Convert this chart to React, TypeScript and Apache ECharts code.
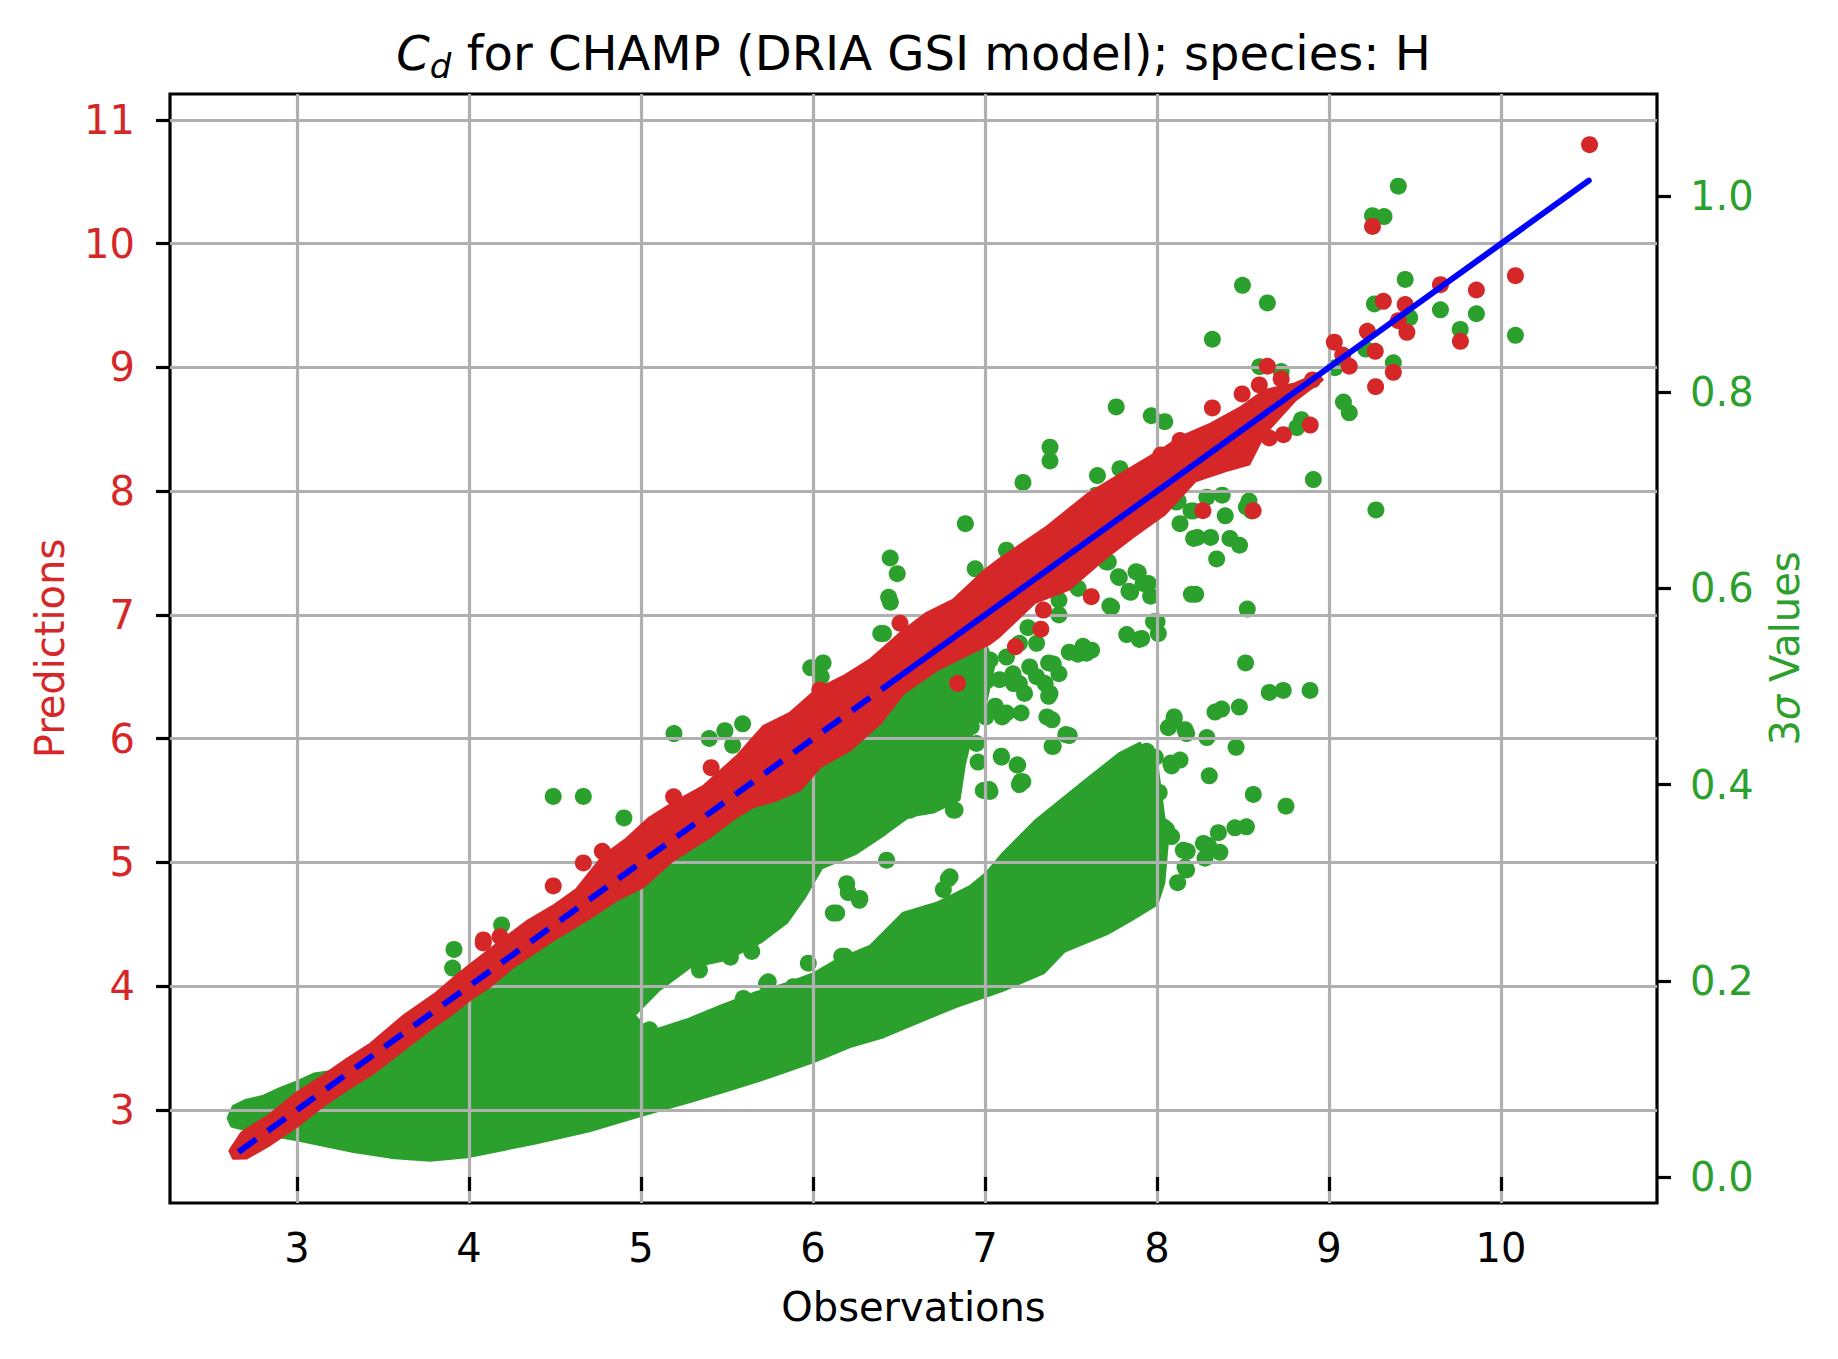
import React, { useEffect, useRef } from "react";
import * as echarts from "echarts";

const RED = "#d62728";
const GREEN = "#2ca02c";
const BLUE = "#0000ff";
const FONT = "DejaVu Sans";

const xTicks = [3, 4, 5, 6, 7, 8, 9, 10];
const predTicks = [3, 4, 5, 6, 7, 8, 9, 10, 11];
const sigmaTicks = [0, 0.2, 0.4, 0.6, 0.8, 1.0];

// dense band of predictions (observation, prediction): upper and lower visible edges
const redBandUpper = [
  [2.61, 2.67], [2.678, 2.814], [2.843, 2.962], [3.0, 3.137], [3.134, 3.259], [3.289, 3.407],
  [3.424, 3.528], [3.618, 3.757], [3.812, 3.945], [3.948, 4.107], [4.199, 4.378], [4.335, 4.52],
  [4.49, 4.647], [4.626, 4.782], [4.78, 5.05], [4.917, 5.19], [5.05, 5.36], [5.188, 5.48],
  [5.362, 5.613], [5.556, 5.855], [5.711, 6.097], [5.866, 6.205], [6.021, 6.394], [6.176, 6.501],
  [6.331, 6.636], [6.506, 6.85], [6.661, 7.014], [6.816, 7.12], [7.0, 7.36], [7.085, 7.45],
  [7.35, 7.7], [7.6, 7.978], [7.823, 8.166], [8.023, 8.33], [8.134, 8.435], [8.312, 8.543],
  [8.49, 8.678], [8.624, 8.813], [8.8, 8.867], [8.935, 8.947],
];
const redBandLower = [
  [2.63, 2.61], [2.708, 2.612], [2.843, 2.72], [3.0, 2.868], [3.134, 3.016], [3.289, 3.164],
  [3.444, 3.299], [3.618, 3.487], [3.773, 3.649], [3.909, 3.784], [4.006, 3.892], [4.122, 4.0],
  [4.258, 4.158], [4.49, 4.374], [4.684, 4.535], [4.859, 4.697], [5.013, 4.805], [5.188, 5.02],
  [5.401, 5.208], [5.556, 5.37], [5.653, 5.451], [5.789, 5.505], [5.924, 5.586], [6.041, 5.774],
  [6.215, 5.909], [6.39, 6.124], [6.525, 6.367], [6.719, 6.555], [7.029, 6.77], [7.085, 6.83],
  [7.288, 7.1], [7.49, 7.21], [7.695, 7.455], [7.862, 7.633], [8.045, 7.816], [8.223, 8.085],
  [8.401, 8.166], [8.535, 8.22], [8.624, 8.463], [8.8, 8.732], [8.96, 8.9],
];
// individual prediction points outside the dense band
const redPoints = [
  [10.515, 10.8], [9.253, 10.14], [10.084, 9.742], [9.648, 9.669], [9.857, 9.626], [9.316, 9.535],
  [9.443, 9.508], [9.403, 9.378], [9.453, 9.284], [9.764, 9.211], [9.223, 9.292], [9.269, 9.131],
  [9.031, 9.204], [9.08, 9.1], [9.118, 9.01], [9.374, 8.961], [9.271, 8.845], [8.904, 8.899],
  [8.642, 9.01], [8.722, 8.907], [8.595, 8.859], [8.495, 8.786], [8.322, 8.673], [8.891, 8.535],
  [8.735, 8.457], [8.653, 8.43], [8.134, 8.409], [8.267, 7.843], [8.559, 7.843], [8.023, 8.293],
  [7.885, 8.09], [7.618, 7.148], [7.34, 7.04], [7.325, 6.885], [7.177, 6.744], [6.841, 6.448],
  [5.408, 5.766], [5.19, 5.53], [4.49, 4.81], [4.775, 5.09], [4.665, 4.996], [4.083, 4.35],
  [4.084, 4.374], [4.181, 4.4], [6.04, 6.394], [6.506, 6.933], [2.66, 2.67], [2.7, 2.69],
];

// dense cloud of 3-sigma values (observation, sigma): outline
const greenCloud = [
  [2.6, 0.06], [2.63, 0.072], [2.7, 0.078], [2.8, 0.082], [2.9, 0.09], [3.0, 0.097], [3.1, 0.105],
  [3.3, 0.11], [3.6, 0.142], [4.0, 0.19], [4.5, 0.255], [5.0, 0.318], [5.4, 0.365], [5.7, 0.4],
  [6.0, 0.435], [6.5, 0.49], [6.8, 0.525], [7.0, 0.545], [7.05, 0.52], [7.0, 0.48], [6.92, 0.45],
  [6.88, 0.42], [6.85, 0.385], [6.7, 0.372], [6.56, 0.368], [6.42, 0.35], [6.25, 0.33], [6.05, 0.315],
  [5.95, 0.285], [5.85, 0.26], [5.7, 0.24], [5.5, 0.222], [5.285, 0.214], [5.1, 0.19], [4.96, 0.165],
  [5.05, 0.148], [5.266, 0.16], [5.459, 0.174], [5.653, 0.187], [5.847, 0.197], [6.008, 0.2076],
  [6.138, 0.221], [6.331, 0.235], [6.525, 0.269], [6.719, 0.279], [6.913, 0.296], [7.01, 0.31],
  [7.106, 0.33], [7.3, 0.364], [7.59, 0.405], [7.785, 0.432], [7.9, 0.442], [8.0, 0.42], [8.03, 0.38],
  [8.06, 0.34], [8.04, 0.3], [8.0, 0.278], [7.85, 0.262], [7.71, 0.248], [7.46, 0.23], [7.34, 0.208],
  [7.1, 0.19], [6.835, 0.174], [6.64, 0.16], [6.41, 0.143], [6.215, 0.133], [6.0, 0.1175],
  [5.75, 0.102], [5.48, 0.087], [5.285, 0.077], [5.013, 0.0635], [4.7, 0.047], [4.394, 0.035],
  [4.006, 0.021], [3.773, 0.017], [3.55, 0.02], [3.33, 0.026], [3.0, 0.038], [2.77, 0.045], [2.62, 0.052],
];
// individual sigma points outside the dense cloud
const greenPoints = [
  [9.403, 1.01], [9.253, 0.98], [9.32, 0.979], [8.497, 0.909], [8.642, 0.891], [8.322, 0.854],
  [9.443, 0.915], [9.264, 0.89], [9.469, 0.876], [9.648, 0.884], [9.857, 0.88], [9.763, 0.864],
  [10.084, 0.858], [9.213, 0.844], [9.374, 0.83], [9.035, 0.825], [9.084, 0.79], [9.118, 0.779],
  [8.597, 0.826], [8.722, 0.821], [8.909, 0.711], [9.273, 0.68], [7.763, 0.785], [7.967, 0.776],
  [8.045, 0.77], [8.813, 0.764], [8.84, 0.772], [7.378, 0.744], [7.378, 0.73], [7.654, 0.715],
  [7.785, 0.722], [7.645, 0.695], [7.6, 0.682], [7.221, 0.708], [8.123, 0.689], [8.29, 0.693],
  [8.379, 0.695], [8.212, 0.679], [8.397, 0.674], [8.134, 0.666], [8.535, 0.689], [8.55, 0.679],
  [8.234, 0.652], [8.312, 0.652], [8.424, 0.651], [8.52, 0.683], [8.48, 0.644], [8.347, 0.63],
  [8.112, 0.688], [8.198, 0.679], [8.213, 0.651], [8.2, 0.594], [7.717, 0.627], [7.781, 0.611],
  [7.891, 0.616], [7.95, 0.605], [7.847, 0.596], [7.963, 0.592], [7.736, 0.581], [8.225, 0.594],
  [8.525, 0.579], [8.0, 0.566], [8.008, 0.554], [7.824, 0.553], [7.911, 0.549], [7.57, 0.541],
  [8.515, 0.524], [8.653, 0.494], [8.734, 0.496], [8.89, 0.496], [8.337, 0.474], [8.376, 0.477],
  [8.479, 0.479], [8.099, 0.466], [8.066, 0.458], [8.172, 0.452], [8.29, 0.448], [8.46, 0.438],
  [7.94, 0.434], [7.99, 0.428], [8.134, 0.425], [8.085, 0.419], [8.304, 0.409], [8.56, 0.39],
  [8.75, 0.378], [8.013, 0.392], [8.037, 0.357], [8.085, 0.347], [8.357, 0.351], [8.453, 0.356],
  [8.52, 0.357], [8.3, 0.338], [8.366, 0.331], [8.176, 0.332], [8.163, 0.316], [8.279, 0.325],
  [8.12, 0.3], [8.056, 0.354], [8.153, 0.333], [8.27, 0.34], [8.172, 0.313],
  [6.886, 0.666], [6.449, 0.631], [6.49, 0.615], [6.44, 0.591], [7.125, 0.639], [6.943, 0.62],
  [7.166, 0.632], [7.705, 0.627], [7.726, 0.582], [7.776, 0.612], [7.878, 0.617], [7.919, 0.605],
  [7.837, 0.597], [7.43, 0.588], [7.43, 0.573], [7.542, 0.6], [7.98, 0.566], [7.898, 0.548],
  [7.54, 0.533], [7.62, 0.537], [7.49, 0.535], [7.3, 0.544], [7.25, 0.56], [7.37, 0.524],
  [7.166, 0.503], [7.23, 0.493], [7.085, 0.507], [7.35, 0.503], [7.37, 0.49], [7.125, 0.473],
  [7.004, 0.469], [6.963, 0.486], [7.095, 0.429], [7.187, 0.42], [7.207, 0.403], [7.024, 0.395],
  [7.39, 0.439], [7.47, 0.451], [7.36, 0.469], [8.1, 0.469], [8.163, 0.456], [8.08, 0.422],
  [7.857, 0.388], [7.98, 0.395], [6.587, 0.478], [6.678, 0.469], [6.74, 0.474], [6.8, 0.473],
  [6.76, 0.452], [6.84, 0.452], [6.92, 0.459], [5.987, 0.519], [6.059, 0.524], [6.048, 0.51],
  [6.394, 0.554], [6.41, 0.554], [6.45, 0.586], [5.192, 0.452], [5.397, 0.447], [5.488, 0.455],
  [5.591, 0.462], [5.533, 0.44], [4.49, 0.388], [4.665, 0.388], [4.901, 0.366], [4.19, 0.257],
  [3.913, 0.232], [3.905, 0.213], [5.05, 0.15], [5.19, 0.147], [6.138, 0.269], [6.273, 0.284],
  [6.196, 0.299], [6.428, 0.323], [6.787, 0.304], [6.758, 0.293], [5.74, 0.199], [5.973, 0.218],
  [5.644, 0.23], [5.52, 0.224], [5.34, 0.211], [6.27, 0.282], [6.186, 0.225],
  [6.56, 0.374], [6.816, 0.374], [6.99, 0.394], [7.2, 0.4],
  [6.118, 0.269], [6.205, 0.29], [6.35, 0.354], [6.234, 0.347], [6.39, 0.369], [6.04, 0.359],
  [6.08, 0.394], [6.14, 0.388], [6.564, 0.374], [6.66, 0.381], [6.826, 0.374], [6.777, 0.411],
  [6.62, 0.401], [6.58, 0.411], [7.029, 0.393], [7.22, 0.403], [7.19, 0.42], [7.096, 0.428],
  [7.397, 0.439], [7.39, 0.466], [7.49, 0.45], [7.21, 0.473], [7.1, 0.469], [6.96, 0.423],
  [6.95, 0.442], [6.855, 0.452], [6.74, 0.476], [6.79, 0.474], [7.0, 0.47], [7.06, 0.48],
  [7.2, 0.503], [7.163, 0.513], [7.378, 0.493], [7.3, 0.51], [7.26, 0.52], [7.397, 0.523],
  [7.59, 0.534], [7.03, 0.527], [7.01, 0.506], [7.125, 0.53], [7.2, 0.544], [7.43, 0.513],
  [5.595, 0.182], [5.73, 0.197], [5.886, 0.194], [6.167, 0.225], [6.797, 0.306], [5.13, 0.211],
];

// ideal y = x reference line
const idealDashed = [[2.66, 2.66], [6.55, 6.55]];
const idealSolid = [[6.5, 6.5], [10.51, 10.51]];

const X_MIN = 2.262, X_MAX = 10.907;
const P_MIN = 2.248, P_MAX = 11.21;
const S_MIN = -0.0265, S_MAX = 1.104;

export default function App() {
  const ref = useRef<HTMLDivElement>(null);

  useEffect(() => {
    const chart = echarts.init(ref.current as HTMLDivElement, null, { renderer: "svg" });

    const polygonSeries = (pts: number[][], yAxisIndex: number, color: string, z: number) => ({
      type: "custom",
      xAxisIndex: 0,
      yAxisIndex,
      z,
      silent: true,
      data: [[pts[0][0], pts[0][1]]],
      renderItem: (_params: any, api: any) => ({
        type: "polygon",
        shape: { points: pts.map((p) => api.coord(p)) },
        style: { fill: color, stroke: color, lineWidth: 3, lineJoin: "round" },
      }),
    });

    const tickStyle = { show: true, length: 14, lineStyle: { color: "#000", width: 3.2 } };

    const option: any = {
      animation: false,
      backgroundColor: "#fff",
      textStyle: { fontFamily: FONT },
      title: {
        text: "{i|C}{sub|d}{n| for CHAMP (DRIA GSI model); species: H}",
        left: 913.5,
        textAlign: "center",
        top: 23,
        padding: 0,
        textStyle: {
          fontWeight: "normal",
          rich: {
            i: { fontFamily: FONT, fontStyle: "italic", fontWeight: "normal", fontSize: 48, lineHeight: 60, color: "#000" },
            sub: { fontFamily: FONT, fontStyle: "italic", fontWeight: "normal", fontSize: 34, lineHeight: 34, verticalAlign: "bottom", color: "#000" },
            n: { fontFamily: FONT, fontWeight: "normal", fontSize: 48, lineHeight: 60, color: "#000" },
          },
        },
      },
      grid: {
        left: 170,
        right: 181,
        top: 94,
        bottom: 156,
        show: true,
        borderColor: "#000",
        borderWidth: 3.2,
        backgroundColor: "transparent",
        containLabel: false,
        outerBoundsMode: "none",
      },
      xAxis: {
        type: "value",
        min: X_MIN,
        max: X_MAX,
        z: 3,
        axisLine: { show: false },
        axisTick: { ...tickStyle, customValues: xTicks },
        axisLabel: { customValues: xTicks, fontSize: 40, color: "#000", fontFamily: FONT, margin: 25 },
        splitLine: { show: true, lineStyle: { color: "#b0b0b0", width: 3.2 } },
        name: "Observations",
        nameLocation: "middle",
        nameGap: 84,
        nameTextStyle: { fontSize: 40, color: "#000", fontFamily: FONT },
      },
      yAxis: [
        {
          type: "value",
          position: "left",
          min: P_MIN,
          max: P_MAX,
          z: 3,
          axisLine: { show: false },
          axisTick: { ...tickStyle, customValues: predTicks },
          axisLabel: { customValues: predTicks, fontSize: 40, color: RED, fontFamily: FONT, margin: 35 },
          splitLine: { show: true, lineStyle: { color: "#b0b0b0", width: 3.2 } },
          name: "Predictions",
          nameLocation: "middle",
          nameGap: 100,
          nameRotate: 90,
          nameTextStyle: { fontSize: 40, color: RED, fontFamily: FONT },
        },
        {
          type: "value",
          position: "right",
          min: S_MIN,
          max: S_MAX,
          z: 3,
          axisLine: { show: false },
          axisTick: { ...tickStyle, customValues: sigmaTicks },
          axisLabel: {
            customValues: sigmaTicks,
            fontSize: 40,
            color: GREEN,
            fontFamily: FONT,
            margin: 33,
            formatter: (v: number) => v.toFixed(1),
          },
          splitLine: { show: false },
          name: "3{s|σ} Values",
          nameLocation: "middle",
          nameGap: 108,
          nameRotate: 90,
          nameTextStyle: {
            fontSize: 40,
            color: GREEN,
            fontFamily: FONT,
            rich: { s: { fontSize: 40, color: GREEN, fontFamily: FONT, fontStyle: "italic" } },
          },
        },
      ],
      series: [
        polygonSeries(greenCloud, 1, GREEN, 2),
        {
          type: "scatter",
          yAxisIndex: 1,
          z: 2,
          silent: true,
          symbol: "circle",
          symbolSize: 17,
          itemStyle: { color: GREEN, opacity: 1 },
          data: greenPoints,
        },
        polygonSeries(redBandUpper.concat(redBandLower.slice().reverse()), 0, RED, 4),
        {
          type: "scatter",
          yAxisIndex: 0,
          z: 4,
          silent: true,
          symbol: "circle",
          symbolSize: 17,
          itemStyle: { color: RED, opacity: 1 },
          data: redPoints,
        },
        {
          type: "line",
          yAxisIndex: 0,
          z: 5,
          silent: true,
          symbol: "none",
          data: idealDashed,
          lineStyle: { color: BLUE, width: 6, type: [22, 14], cap: "butt" },
        },
        {
          type: "line",
          yAxisIndex: 0,
          z: 5,
          silent: true,
          symbol: "none",
          data: idealSolid,
          lineStyle: { color: BLUE, width: 6, type: "solid", cap: "round" },
        },
      ],
    };

    chart.setOption(option);
    return () => chart.dispose();
  }, []);

  return (
    <div
      ref={ref}
      style={{ position: "absolute", left: 0, top: 0, width: 1838, height: 1359 }}
    />
  );
}
